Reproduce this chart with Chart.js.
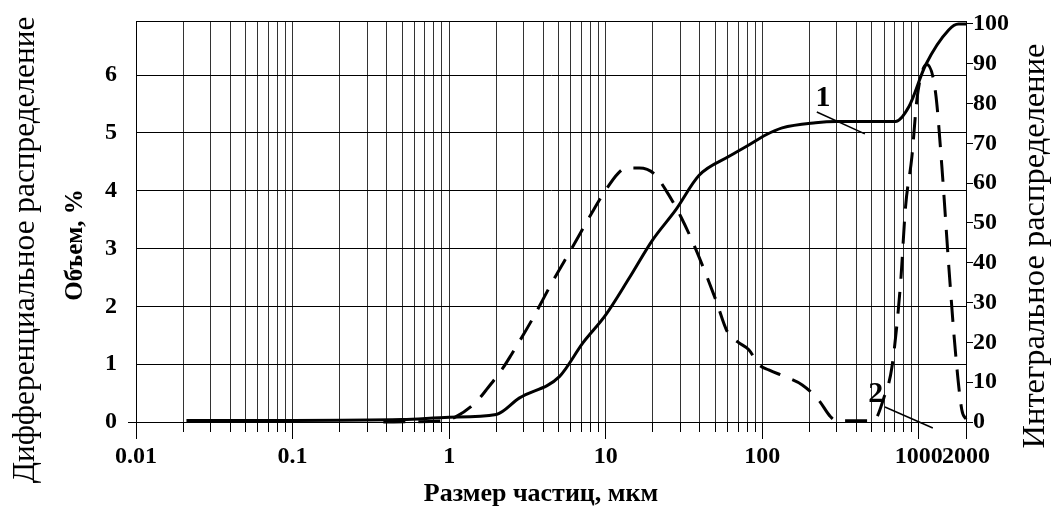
<!DOCTYPE html>
<html>
<head>
<meta charset="utf-8">
<script src="https://cdn.jsdelivr.net/npm/chart.js@4.4.0/dist/chart.umd.min.js"></script>
<style>
  html, body { margin: 0; padding: 0; background: #fff; }
  #wrap { width: 1051px; height: 508px; }
</style>
</head>
<body>
<div id="wrap"><canvas id="c" width="1051" height="508"></canvas></div>
<script>
// Particle size, µm — differential distribution (curve 2, left axis, volume %)
const sizeDiff = [0.38, 0.9, 1.1, 1.49, 1.72, 2.2, 2.49, 3.42, 4.58, 6.15, 8.25, 10, 12, 13.5, 16.4,
  20.4, 24.2, 30.2, 37.7, 50.5, 59.8, 70, 82, 95.5, 110, 141, 180, 229, 273, 300, 355, 513,
  598, 673, 764, 822, 902, 971, 1045, 1125, 1279, 1403, 1554, 1715, 1880, 2000];
const volumeDiff = [0, 0.02, 0.09, 0.35, 0.55, 0.93, 1.16, 1.79, 2.43, 3.03, 3.64, 4.01, 4.3, 4.39, 4.39,
  4.29, 4.01, 3.55, 2.98, 2.11, 1.56, 1.38, 1.25, 0.99, 0.9, 0.78, 0.64, 0.38, 0.09, 0.02, 0.02, 0.02,
  0.42, 0.95, 2.4, 3.72, 4.58, 5.57, 6.04, 6.18, 5.69, 4.41, 2.68, 1.19, 0.21, 0.05];

// Particle size, µm — integral (cumulative) distribution (curve 1, right axis, %)
const sizeCum = [0.021, 0.1, 0.5, 1, 2, 2.8, 5.06, 7.13, 10, 14.1, 19.9, 28, 39.5, 61, 82, 105, 134,
  219, 300, 710, 863, 1104, 1550, 1790, 2000];
const volumeCum = [0.4, 0.4, 0.6, 1.2, 1.9, 6, 11.4, 19.8, 26.9, 36.1, 45.7, 53.3, 62, 66.7, 69.6, 72.1,
  73.9, 75.2, 75.5, 75.5, 79.2, 89.7, 98.5, 100, 100];

// Axis ticks
const xDecades = [0.01, 0.1, 1, 10, 100, 1000];
const xTickLabels = [0.01, 0.1, 1, 10, 100, 1000, 2000];
const leftTicks = [0, 1, 2, 3, 4, 5, 6];
const rightTicks = [0, 10, 20, 30, 40, 50, 60, 70, 80, 90, 100];

const X_MIN = 0.01, X_MAX = 2000;
const LEFT_MAX = 6.934, RIGHT_MAX = 100.75;

const SERIF = '"Liberation Serif", "Times New Roman", serif';
const tickFont = { family: SERIF, size: 24, weight: 'bold' };

// all log grid positions 1..9 × decade, up to the axis end
const xGrid = [];
xDecades.forEach(d => {
  for (let m = 1; m <= 9; m++) {
    const v = parseFloat((m * d).toPrecision(6));
    if (v <= X_MAX) xGrid.push(v);
  }
});

const toPoints = (xs, ys) => xs.map((x, i) => ({ x, y: ys[i] }));

const snap = (p) => Math.round(p - 0.5) + 0.5;

// keep the plot frame fixed: no extra room reserved for edge labels
const noEdgePadding = (s) => {
  s.paddingTop = 0; s.paddingBottom = 0; s.paddingLeft = 0; s.paddingRight = 0;
};

// frame, long decade ticks, axis titles and curve labels
const decorations = {
  id: 'decorations',
  beforeDatasetsDraw(chart) {
    const { ctx, chartArea } = chart;
    const xs = chart.scales.x;
    ctx.save();
    ctx.strokeStyle = '#000';
    ctx.lineWidth = 1;
    ctx.beginPath();
    ctx.moveTo(chartArea.left, snap(chartArea.top));
    ctx.lineTo(chartArea.right, snap(chartArea.top));
    xTickLabels.forEach(v => {
      const px = snap(xs.getPixelForValue(v));
      ctx.moveTo(px, chartArea.bottom);
      ctx.lineTo(px, chartArea.bottom + 17);
    });
    ctx.stroke();
    ctx.restore();
  },
  afterDraw(chart) {
    const { ctx } = chart;
    const xs = chart.scales.x;
    ctx.save();
    ctx.fillStyle = '#000';
    ctx.textAlign = 'center';
    ctx.textBaseline = 'alphabetic';

    const vertical = (text, font, x, y) => {
      ctx.save();
      ctx.font = font;
      ctx.translate(x, y);
      ctx.rotate(-Math.PI / 2);
      ctx.fillText(text, 0, 0);
      ctx.restore();
    };
    vertical('Дифференциальное распределение', '31.3px ' + SERIF, 34, 250);
    vertical('Объем, %', 'bold 25px ' + SERIF, 82, 245);
    vertical('Интегральное распределение', '32.5px ' + SERIF, 1044, 246);

    ctx.font = 'bold 26px ' + SERIF;
    ctx.fillText('Размер частиц, мкм', 541, 501);

    // curve numbers with leader lines (data coordinates)
    const notes = [
      { text: '1', axis: 'y2', at: [244, 81.4], from: [223, 77.9], to: [452, 72.4] },
      { text: '2', axis: 'y', at: [531, 0.475], from: [607, 0.26], to: [1228, -0.104] }
    ];
    notes.forEach(n => {
      const ys = chart.scales[n.axis];
      ctx.strokeStyle = '#000';
      ctx.lineWidth = 1.5;
      ctx.beginPath();
      ctx.moveTo(xs.getPixelForValue(n.from[0]), ys.getPixelForValue(n.from[1]));
      ctx.lineTo(xs.getPixelForValue(n.to[0]), ys.getPixelForValue(n.to[1]));
      ctx.stroke();
      ctx.font = 'bold 30px ' + SERIF;
      ctx.textBaseline = 'middle';
      ctx.fillText(n.text, xs.getPixelForValue(n.at[0]), ys.getPixelForValue(n.at[1]));
    });
    ctx.restore();
  }
};

new Chart(document.getElementById('c'), {
  type: 'line',
  data: {
    datasets: [
      {
        label: '1',
        data: toPoints(sizeCum, volumeCum),
        yAxisID: 'y2',
        borderColor: '#000',
        borderWidth: 3,
        pointRadius: 0,
        cubicInterpolationMode: 'monotone',
        clip: false
      },
      {
        label: '2',
        data: toPoints(sizeDiff, volumeDiff),
        yAxisID: 'y',
        borderColor: '#000',
        borderWidth: 3,
        borderDash: [22, 13],
        pointRadius: 0,
        cubicInterpolationMode: 'monotone',
        clip: false
      }
    ]
  },
  options: {
    responsive: false,
    animation: false,
    devicePixelRatio: 1,
    layout: { padding: { top: 21, left: 0, right: 0, bottom: 0 } },
    plugins: { legend: { display: false }, tooltip: { enabled: false } },
    scales: {
      x: {
        type: 'logarithmic',
        position: 'bottom',
        min: X_MIN,
        max: X_MAX,
        afterBuildTicks: s => { s.ticks = xGrid.map(v => ({ value: v, major: xTickLabels.includes(v) })); },
        afterFit: s => { s.height = 86; noEdgePadding(s); },
        ticks: {
          autoSkip: false,
          maxRotation: 0,
          minRotation: 0,
          padding: 10,
          color: '#000',
          font: tickFont,
          callback: v => (xTickLabels.includes(v) ? String(v) : '')
        },
        grid: { color: '#333', lineWidth: 1, drawTicks: true, tickLength: 10, tickColor: '#000' },
        border: { display: true, color: '#000', width: 1 }
      },
      y: {
        position: 'left',
        min: 0,
        max: LEFT_MAX,
        afterBuildTicks: s => { s.ticks = leftTicks.map(v => ({ value: v })); },
        afterFit: s => { s.width = 136; noEdgePadding(s); },
        ticks: { padding: 11, color: '#000', font: tickFont },
        grid: {
          color: '#000', lineWidth: 1, drawTicks: true, tickLength: 8,
          tickColor: c => (c.tick && c.tick.value === 0 ? '#000' : 'rgba(0,0,0,0)')
        },
        border: { display: true, color: '#000', width: 1 }
      },
      y2: {
        position: 'right',
        min: 0,
        max: RIGHT_MAX,
        afterBuildTicks: s => { s.ticks = rightTicks.map(v => ({ value: v })); },
        afterFit: s => { s.width = 85; noEdgePadding(s); },
        ticks: { padding: 0, color: '#000', font: tickFont },
        grid: { drawOnChartArea: false, drawTicks: true, tickLength: 7, color: '#000', lineWidth: 1 },
        border: { display: true, color: '#000', width: 1 }
      }
    }
  },
  plugins: [decorations]
});
</script>
</body>
</html>
